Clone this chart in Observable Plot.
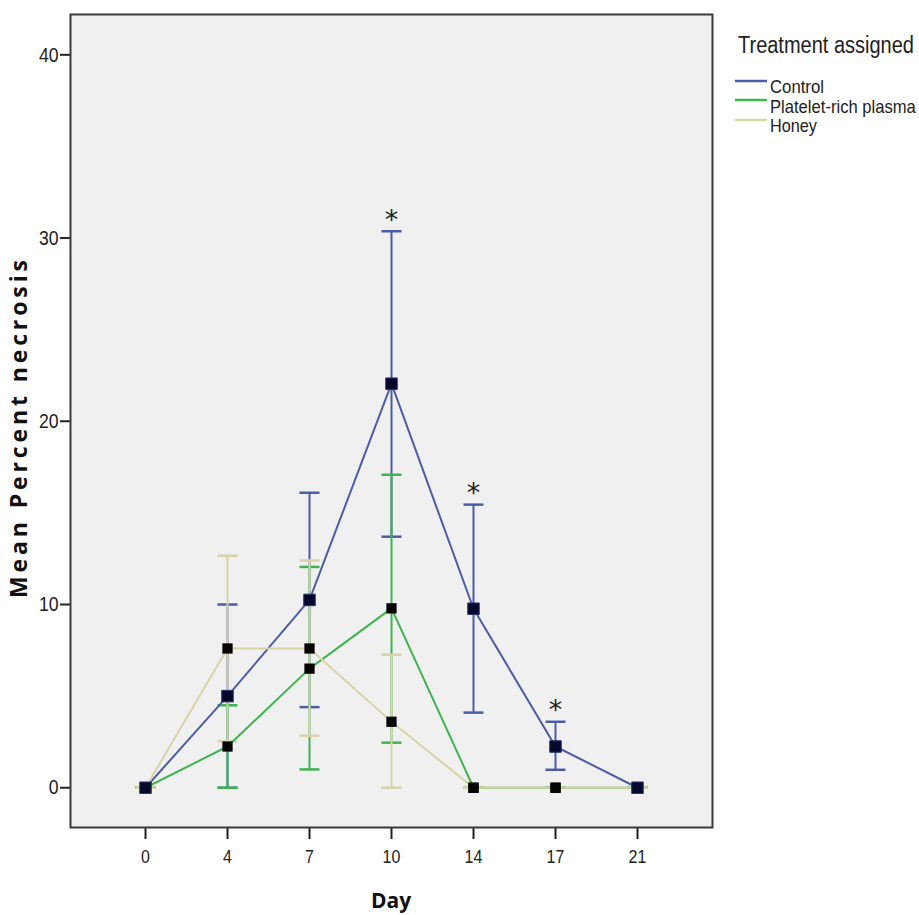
<!DOCTYPE html>
<html><head><meta charset="utf-8">
<script src="https://cdn.jsdelivr.net/npm/d3@7"></script>
<script src="https://cdn.jsdelivr.net/npm/@observablehq/plot@0.6"></script>
<style>body{margin:0;background:#fff}</style>
</head><body><div id="chart"></div>
<script>
// ---- data ----
const days = ["0", "4", "7", "10", "14", "17", "21"];
const seriesNames = ["Control", "Platelet-rich plasma", "Honey"];
const seriesColors = ["#4d5ca8", "#3db44f", "#d8d3a8"];

const controlMean = [0, 5.0, 10.25, 22.05, 9.77, 2.25, 0];
const controlLo   = [0, 0.0, 4.4, 13.7, 4.1, 0.98, 0];
const controlHi   = [0, 10.0, 16.1, 30.37, 15.45, 3.6, 0];

const prpMean = [0, 2.25, 6.5, 9.79, 0, 0, 0];
const prpLo   = [0, 0.0, 1.0, 2.46, 0, 0, 0];
const prpHi   = [0, 4.5, 12.05, 17.08, 0, 0, 0];

const honeyMean = [0, 7.6, 7.6, 3.6, 0, 0, 0];
const honeyLo   = [0, 2.54, 2.84, 0, 0, 0, 0];
const honeyHi   = [0, 12.66, 12.4, 7.26, 0, 0, 0];

const significantDays = ["10", "14", "17"];
const yTicks = [0, 10, 20, 30, 40];

// ---- build tables ----
const seriesData = [
  {name: seriesNames[0], color: seriesColors[0], mean: controlMean, lo: controlLo, hi: controlHi},
  {name: seriesNames[1], color: seriesColors[1], mean: prpMean, lo: prpLo, hi: prpHi},
  {name: seriesNames[2], color: seriesColors[2], mean: honeyMean, lo: honeyLo, hi: honeyHi}
];
const rowsOf = s => days.map((d, i) => ({series: s.name, day: d, mean: s.mean[i], lo: s.lo[i], hi: s.hi[i]}));
const controlRows = rowsOf(seriesData[0]);
const stars = controlRows.filter(r => significantDays.includes(r.day));

const capSymbol = {draw(ctx) { ctx.moveTo(-10, 0); ctx.lineTo(10, 0); }};
const narrow = '"Liberation Sans","Arial",sans-serif';

const marks = [
  Plot.frame({fill: "#f0f0f0"}),
  Plot.axisY({ticks: yTicks, tickSize: 10, tickPadding: 2, fontSize: 21, strokeWidth: 2, label: null, fill: "#222"}),
  Plot.axisX({tickSize: 12, tickPadding: 10, fontSize: 19, strokeWidth: 2, label: null, fill: "#222"})
];
for (const s of seriesData) {
  const rows = rowsOf(s);
  marks.push(Plot.ruleX(rows, {x: "day", y1: "lo", y2: "hi", stroke: s.color, strokeWidth: 2}));
  marks.push(Plot.dot(rows, {x: "day", y: "lo", symbol: capSymbol, stroke: s.color, strokeWidth: 2.5, fill: "none"}));
  marks.push(Plot.dot(rows, {x: "day", y: "hi", symbol: capSymbol, stroke: s.color, strokeWidth: 2.5, fill: "none"}));
}
for (const s of seriesData) {
  marks.push(Plot.line(rowsOf(s), {x: "day", y: "mean", stroke: s.color, strokeWidth: 2}));
}
for (const s of [...seriesData].reverse()) {
  const big = s.name === "Control";
  marks.push(Plot.dot(rowsOf(s), {x: "day", y: "mean", symbol: "square", r: big ? 6.5 : 5.8,
    fill: big ? "#05082a" : "#050505", stroke: big ? "#2a3470" : "none", strokeWidth: 1}));
}
marks.push(Plot.text(stars, {x: "day", y: "hi", text: () => "*", dy: -11, fontSize: 27, fontFamily: "DejaVu Sans", fill: "#222"}));
marks.push(Plot.frame({stroke: "#3a3a3a", strokeWidth: 2}));

const chart = Plot.plot({
  width: 919, height: 915,
  marginLeft: 70, marginRight: 207, marginTop: 14, marginBottom: 88,
  style: {fontFamily: narrow, background: "#fff", color: "#222"},
  x: {type: "point", domain: days, padding: 0.875, label: null},
  y: {domain: [-2.17, 42.2], label: null},
  marks
});
document.getElementById("chart").appendChild(chart);

const svg = d3.select(chart);
// condense tick labels (narrow font look)
svg.selectAll('g[aria-label="x-axis tick label"] text, g[aria-label="y-axis tick label"] text').each(function() {
  const len = this.getComputedTextLength();
  d3.select(this).attr("textLength", len * 0.84).attr("lengthAdjust", "spacingAndGlyphs");
});

// axis titles
svg.append("text")
  .attr("transform", "translate(27,429) rotate(-90)")
  .attr("text-anchor", "middle")
  .attr("font-family", '"Open Sans",sans-serif').attr("font-weight", "bold").attr("font-size", 23)
  .attr("textLength", 338).attr("lengthAdjust", "spacing")
  .attr("fill", "#111")
  .text("Mean Percent necrosis");
svg.append("text")
  .attr("x", 391).attr("y", 908)
  .attr("text-anchor", "middle")
  .attr("font-family", '"Open Sans",sans-serif').attr("font-weight", "bold").attr("font-size", 21)
  .attr("fill", "#111")
  .text("Day");

// legend (narrow look via horizontal scaling)
const lg = svg.append("g").attr("font-family", narrow).attr("fill", "#222").attr("text-anchor", "start");
function narrowText(x, y, size, width, str) {
  const t = lg.append("text").attr("x", 0).attr("y", 0).attr("font-size", size).text(str);
  const len = t.node().getComputedTextLength();
  t.attr("transform", `translate(${x},${y}) scale(${width / len},1)`);
}
narrowText(738, 53, 23, 176, "Treatment assigned");
const lineY = [81, 100, 120], textY = [93, 113, 132], textW = [54, 146, 47];
seriesData.forEach((s, i) => {
  lg.append("line").attr("x1", 735).attr("x2", 767).attr("y1", lineY[i]).attr("y2", lineY[i])
    .attr("stroke", s.color).attr("stroke-width", 2.5);
  narrowText(770, textY[i], 17.5, textW[i], s.name);
});
</script>
</body></html>
